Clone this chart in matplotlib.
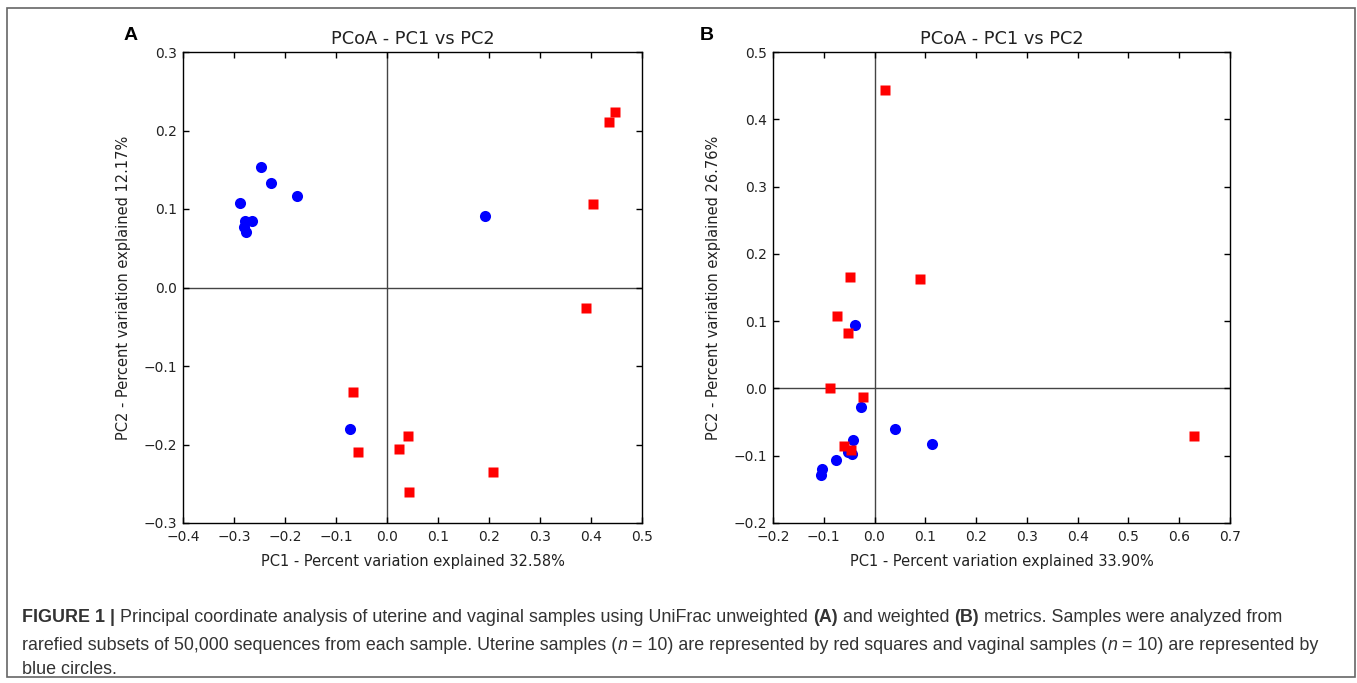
import numpy as np
import matplotlib.pyplot as plt
from matplotlib.patches import Rectangle

# panel A - unweighted UniFrac
a_blue_x = [-0.288, -0.247, -0.227, -0.176, -0.278, -0.265, -0.280, -0.276, 0.192, -0.073]
a_blue_y = [0.108, 0.153, 0.133, 0.117, 0.085, 0.085, 0.077, 0.071, 0.091, -0.180]
a_red_x = [0.447, 0.435, 0.404, 0.390, -0.067, -0.057, 0.041, 0.024, 0.043, 0.208]
a_red_y = [0.224, 0.211, 0.106, -0.026, -0.133, -0.210, -0.189, -0.206, -0.260, -0.235]

# panel B - weighted UniFrac
b_blue_x = [-0.039, -0.026, 0.041, 0.114, -0.043, -0.053, -0.045, -0.075, -0.104, -0.106]
b_blue_y = [0.095, -0.028, -0.061, -0.083, -0.077, -0.094, -0.098, -0.107, -0.120, -0.129]
b_red_x = [0.020, -0.049, 0.090, -0.073, -0.053, -0.087, -0.022, -0.061, -0.047, 0.630]
b_red_y = [0.444, 0.166, 0.162, 0.108, 0.082, 0.001, -0.012, -0.086, -0.091, -0.071]

a_xticks = [-0.4, -0.3, -0.2, -0.1, 0.0, 0.1, 0.2, 0.3, 0.4, 0.5]
a_yticks = [-0.3, -0.2, -0.1, 0.0, 0.1, 0.2, 0.3]
b_xticks = [-0.2, -0.1, 0.0, 0.1, 0.2, 0.3, 0.4, 0.5, 0.6, 0.7]
b_yticks = [-0.2, -0.1, 0.0, 0.1, 0.2, 0.3, 0.4, 0.5]

W, H = 1357, 683
fig = plt.figure(figsize=(W / 100, H / 100), dpi=100)
fig.patches.append(Rectangle((7 / W, 1 - 677 / H), (1355 - 7) / W, (677 - 8) / H,
                             transform=fig.transFigure, fill=False,
                             edgecolor='#666666', linewidth=1.2))


def fmt(v):
    return f'{v:.1f}'.replace('-', '\u2212')


def panel(rect, bx, by, rx, ry, xt, yt, xlab, ylab, letter, lx):
    ax = fig.add_axes(rect)
    ax.axhline(0, color='#444444', lw=1, zorder=1)
    ax.axvline(0, color='#444444', lw=1, zorder=1)
    ax.plot(bx, by, 'o', color='blue', ms=8, mec='none', zorder=3)
    ax.plot(rx, ry, 's', color='red', ms=7, mec='none', zorder=3)
    ax.set_xlim(xt[0], xt[-1])
    ax.set_ylim(yt[0], yt[-1])
    ax.set_xticks(xt)
    ax.set_yticks(yt)
    ax.set_xticklabels([fmt(v) for v in xt])
    ax.set_yticklabels([fmt(v) for v in yt])
    ax.tick_params(direction='in', top=True, right=True, length=4, width=1,
                   labelsize=10, labelcolor='#222222')
    ax.tick_params(axis='x', pad=5)
    ax.tick_params(axis='y', pad=4)
    for s in ax.spines.values():
        s.set_linewidth(1)
    ax.set_title('PCoA - PC1 vs PC2', fontsize=12.8, color='#222222', pad=6)
    ax.set_xlabel(xlab, fontsize=10.5, color='#222222', labelpad=7)
    ax.set_ylabel(ylab, fontsize=10.5, color='#222222', labelpad=9)
    fig.text(lx / W, 1 - 36 / H, letter, fontsize=14, fontweight='bold',
             family='Liberation Sans', ha='center', va='center')
    return ax


bottom = 1 - 523 / H
height = (523 - 52) / H
panel([183 / W, bottom, (642 - 183) / W, height], a_blue_x, a_blue_y, a_red_x, a_red_y,
      a_xticks, a_yticks, 'PC1 - Percent variation explained 32.58%',
      'PC2 - Percent variation explained 12.17%', 'A', 131)
panel([773 / W, bottom, (1230 - 773) / W, height], b_blue_x, b_blue_y, b_red_x, b_red_y,
      b_xticks, b_yticks, 'PC1 - Percent variation explained 33.90%',
      'PC2 - Percent variation explained 26.76%', 'B', 707)

# caption with mixed styles
caption = [
    [('FIGURE 1 |', 'bold', 'normal'),
     (' Principal coordinate analysis of uterine and vaginal samples using UniFrac unweighted ', 'normal', 'normal'),
     ('(A)', 'bold', 'normal'), (' and weighted ', 'normal', 'normal'), ('(B)', 'bold', 'normal'),
     (' metrics. Samples were analyzed from', 'normal', 'normal')],
    [('rarefied subsets of 50,000 sequences from each sample. Uterine samples (', 'normal', 'normal'),
     ('n', 'normal', 'italic'), (' = 10) are represented by red squares and vaginal samples (', 'normal', 'normal'),
     ('n', 'normal', 'italic'), (' = 10) are represented by', 'normal', 'normal')],
    [('blue circles.', 'normal', 'normal')],
]
line_y = [618, 645, 670]
renderer = fig.canvas.get_renderer()
for parts, yy in zip(caption, line_y):
    x = 22
    for txt, weight, style in parts:
        t = fig.text(x / W, 1 - yy / H, txt, fontsize=12.9, fontweight=weight, fontstyle=style,
                     family='Liberation Sans', color='#333333', va='center', ha='left')
        x += t.get_window_extent(renderer).width

fig.savefig('out.png', dpi=100)
